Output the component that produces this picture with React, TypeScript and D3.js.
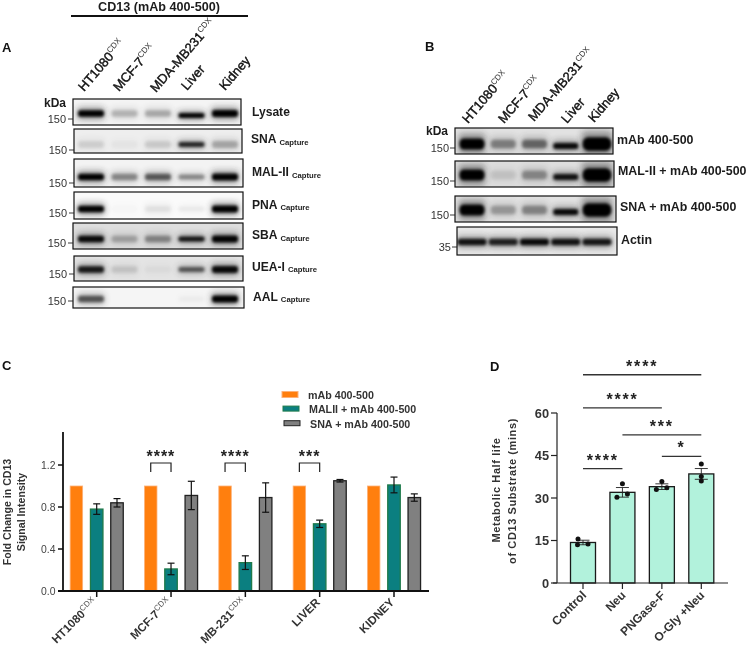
import React from "react";
import * as d3 from "d3";

const FONT = "'Liberation Sans', Arial, sans-serif";
const INK = "#1c1c1c";

// ---- Blot data ----
const laneNames = [
  ["HT1080", "CDX"],
  ["MCF-7", "CDX"],
  ["MDA-MB231", "CDX"],
  ["Liver", ""],
  ["Kidney", ""],
];
const blotANames = ["Lysate", "SNA", "MAL-II", "PNA", "SBA", "UEA-I", "AAL"];
const blotATicks = ["150", "150", "150", "150", "150", "150", "150"];
const blotAIntensity = [
  [1, 0.26, 0.3, 0.95, 1],
  [0.14, 0.05, 0.16, 0.8, 0.3],
  [1, 0.42, 0.6, 0.42, 0.95],
  [1, 0.02, 0.1, 0.07, 1],
  [0.92, 0.28, 0.4, 0.88, 0.95],
  [0.85, 0.15, 0.05, 0.6, 0.92],
  [0.62, 0, 0, 0.04, 1],
];
const blotAGray = [244, 238, 243, 250, 222, 228, 245];

const blotBNames = ["mAb 400-500", "MAL-II + mAb 400-500", "SNA + mAb 400-500", "Actin"];
const blotBTicks = ["150", "150", "150", "35"];
const blotBIntensity = [
  [1, 0.42, 0.52, 0.92, 1],
  [1, 0.13, 0.38, 0.88, 1],
  [1, 0.32, 0.4, 0.92, 1],
  [0.88, 0.82, 0.92, 0.88, 0.86],
];
const blotBGray = [226, 222, 226, 232];

// layout of blots: [x0, y0, x1, y1, tickY, bandY]
const layoutA = [
  [73, 99, 241, 125, 119, 113.5],
  [74, 129, 242, 153, 150, 144.5],
  [74, 159, 243, 187, 183, 177],
  [74, 192, 243, 219, 213, 209],
  [73, 223, 243, 249, 243, 239],
  [74, 256, 243, 281, 274, 269.5],
  [73, 287, 244, 308, 301, 299],
];
const layoutB = [
  [455, 128, 613, 154, 148, 144],
  [455, 161, 614, 187, 181, 175],
  [455, 196, 616, 222, 215, 210],
  [457, 227, 617, 255, 247, 242],
];
// relative band thickness and lane width per lane
const laneThickA = [1, 1, 1, 0.75, 1.05];
const laneThickB = [1.1, 0.85, 0.85, 0.6, 1.35];
const laneWideB = [1, 1, 1, 1, 1.15];

// ---- Panel C data ----
const cCategories = [["HT1080", "CDX"], ["MCF-7", "CDX"], ["MB-231", "CDX"], ["LIVER", ""], ["KIDNEY", ""]];
const cSeriesNames = ["mAb 400-500", "MALII + mAb 400-500", "SNA + mAb 400-500"];
const cFill = ["#ff7f0e", "#0b7f80", "#808080"];
const cStroke = ["#fdb27a", "#1f7a4a", "#222222"];
const cMab = [1, 1, 1, 1, 1];
const cMal = [0.78, 0.21, 0.27, 0.64, 1.01];
const cSna = [0.84, 0.91, 0.89, 1.05, 0.89];
const cMalErr = [0.05, 0.055, 0.065, 0.035, 0.075];
const cSnaErr = [0.04, 0.135, 0.14, 0.012, 0.035];
const cStars = ["", "****", "****", "***", ""];
const cTicks = [0, 0.4, 0.8, 1.2];

// ---- Panel D data ----
const dCategories = ["Control", "Neu", "PNGase-F", "O-Gly +Neu"];
const dMeans = [14.3, 32, 34, 38.5];
const dSem = [0.8, 1.7, 1.0, 1.9];
const dPoints = [
  [15.5, 13.5, 13.8],
  [35, 30.3, 31.4],
  [35.8, 33, 33.6],
  [42, 36, 37.6],
];
const dTicks = [0, 15, 30, 45, 60];
// comparison [from, to, stars, value level]
const dSig: [number, number, string, number][] = [
  [0, 3, "****", 73.5],
  [0, 2, "****", 61.8],
  [1, 3, "***", 52.3],
  [2, 3, "*", 44.7],
  [0, 1, "****", 40.4],
];

// ---- Scales ----
const xC = d3.scalePoint<number>().domain([0, 1, 2, 3, 4]).range([96.7, 394]);
const yC = d3.scaleLinear().domain([0, 1.2]).range([591, 465]);
const xD = d3.scalePoint<number>().domain([0, 1, 2, 3]).range([583, 701.3]);
const yD = d3.scaleLinear().domain([0, 60]).range([583, 413]);
const xLaneA = d3.scalePoint<number>().domain([0, 1, 2, 3, 4]).range([91, 225]);
const xLaneB = d3.scalePoint<number>().domain([0, 1, 2, 3, 4]).range([472, 597]);

function Blot({ id, box, gray, intensity, laneX, bandW, bandH, thick, wide, liverDy, tick, label, labelX, labelDy, sub, tickX }: any) {
  const [x0, y0, x1, y1, tickY, bandY] = box;
  const g = (v: number) => `rgb(${v},${v},${v})`;
  return (
    <g>
      <clipPath id={id}><rect x={x0} y={y0} width={x1 - x0} height={y1 - y0} /></clipPath>
      <rect x={x0} y={y0} width={x1 - x0} height={y1 - y0} fill={g(gray)} />
      <g clipPath={`url(#${id})`}>
        {intensity.map((v: number, i: number) => {
          const h = bandH * thick[i];
          const w = bandW * wide[i];
          const cy = bandY + (i === 3 ? liverDy : 0);
          return (
            <g key={i}>
              <rect x={laneX(i) - w / 2 - 1} y={cy - h * 0.95} width={w + 2} height={h * 1.9} rx={4}
                fill="#222" opacity={v * 0.42} filter="url(#blurWide)" />
              <rect x={laneX(i) - w / 2} y={cy - h / 2} width={w} height={h} rx={h / 2.4}
                fill="#000" opacity={Math.min(1, Math.pow(v, 1.25) * 1.05)} filter="url(#blurBand)" />
            </g>
          );
        })}
      </g>
      <rect x={x0} y={y0} width={x1 - x0} height={y1 - y0} fill="none" stroke="#111" strokeWidth={1.2} />
      <line x1={x0 - 5} x2={x0} y1={tickY} y2={tickY} stroke="#222" strokeWidth={0.9} />
      <text x={tickX} y={tickY + 4} fontSize={11} fill="#333" textAnchor="end">{tick}</text>
      <text x={labelX} y={(y0 + y1) / 2 + labelDy} fontSize={sub === null ? 12.4 : 12.1} fontWeight="bold" fill={INK}>
        {label}
        {sub && <tspan fontSize={7.7} dx={3} dy={1.5}>Capture</tspan>}
      </text>
    </g>
  );
}

function LaneLabel({ x, y, parts, angle, size }: any) {
  return (
    <text transform={`translate(${x},${y}) rotate(${angle})`} fontSize={size} fill="#111" stroke="#111" strokeWidth={0.4}>
      {parts[0]}
      {parts[1] && <tspan fontSize={size * 0.62} stroke="none" fill="#333" dy={-size * 0.42}>{parts[1]}</tspan>}
    </text>
  );
}

const aLabelX = [252, 251, 252, 252, 252, 252, 253];
const aLabelDy = [4, 2, 3, 3, 3, 2, 3];
const bLabelX = [617, 618, 620, 621];
const bLabelDy = [3, 1, 2, 3];
const aLaneAnchor = [[84, 92], [119, 92], [156, 93], [187, 91], [225, 91]];
const bLaneAnchor = [[468, 124], [504, 124], [534, 122], [567, 124], [594, 123]];

export default function App() {
  const groupOffset = 20.3;
  const barW = 12.5;
  const series = [cMab, cMal, cSna];
  const errs = [null, cMalErr, cSnaErr];
  return (
    <svg width={748} height={651} viewBox="0 0 748 651" fontFamily={FONT}
      style={{ position: "absolute", left: 0, top: 0, background: "#fff" }}>
      <defs>
        <filter id="blurBand" x="-30%" y="-100%" width="160%" height="300%"><feGaussianBlur stdDeviation="1.5" /></filter>
        <filter id="blurWide" x="-30%" y="-100%" width="160%" height="300%"><feGaussianBlur stdDeviation="3" /></filter>
        <filter id="soft" filterUnits="userSpaceOnUse" x="0" y="0" width="748" height="651" colorInterpolationFilters="sRGB"><feGaussianBlur stdDeviation="0.4" /></filter>
      </defs>
      <g filter="url(#soft)">

      {/* Panel A */}
      <text x={159} y={11} fontSize={12.6} fontWeight="bold" textAnchor="middle" fill={INK}>CD13 (mAb 400-500)</text>
      <line x1={71} x2={248} y1={16} y2={16} stroke="#111" strokeWidth={2} />
      <text x={2} y={52} fontSize={13} fontWeight="bold" fill="#111">A</text>
      {laneNames.map((p, i) => (
        <LaneLabel key={i} x={aLaneAnchor[i][0]} y={aLaneAnchor[i][1]} parts={p} angle={-49} size={13} />
      ))}
      <text x={44} y={107} fontSize={12} fontWeight="bold" fill={INK}>kDa</text>
      {blotANames.map((n, i) => (
        <Blot key={n} id={`a${i}`} box={layoutA[i]} gray={blotAGray[i]} intensity={blotAIntensity[i]}
          laneX={xLaneA} bandW={26} bandH={6.5} thick={laneThickA} wide={[1, 1, 1, 1, 1]} liverDy={i === 0 ? 2 : 0}
          tick={blotATicks[i]} label={n} labelX={aLabelX[i]}
          labelDy={aLabelDy[i]} sub={i > 0} tickX={layoutA[i][0] - 7} />
      ))}

      {/* Panel B */}
      <text x={425} y={51} fontSize={13} fontWeight="bold" fill="#111">B</text>
      {laneNames.map((p, i) => (
        <LaneLabel key={i} x={bLaneAnchor[i][0]} y={bLaneAnchor[i][1]} parts={p} angle={-49} size={13} />
      ))}
      <text x={426} y={135} fontSize={12} fontWeight="bold" fill={INK}>kDa</text>
      {blotBNames.map((n, i) => (
        <Blot key={n} id={`b${i}`} box={layoutB[i]} gray={blotBGray[i]} intensity={blotBIntensity[i]}
          laneX={xLaneB} bandW={i === 3 ? 29 : 25} bandH={i === 3 ? 6.5 : 10}
          thick={i === 3 ? [1, 1, 1, 1, 1] : laneThickB} wide={i === 3 ? [1, 1, 1, 1, 1] : laneWideB}
          liverDy={i === 3 ? 0 : 2} tick={blotBTicks[i]} label={n}
          labelX={bLabelX[i]} labelDy={bLabelDy[i]} sub={null} tickX={layoutB[i][0] - 6} />
      ))}

      {/* Panel C */}
      <text x={2} y={370} fontSize={13} fontWeight="bold" fill="#111">C</text>
      {cSeriesNames.map((n, i) => (
        <g key={n}>
          <rect x={282 + i} y={391.5 + i * 14.6} width={16} height={i === 0 ? 6 : 5}
            fill={cFill[i]} stroke={cStroke[i]} strokeWidth={1} />
          <text x={308 + i} y={398.5 + i * 14.6} fontSize={10.7} fontWeight="bold" fill="#333">{n}</text>
        </g>
      ))}
      <text transform="translate(11,512) rotate(-90)" fontSize={10.6} fontWeight="bold" fill="#333" textAnchor="middle">Fold Change in CD13</text>
      <text transform="translate(24.5,512) rotate(-90)" fontSize={10.6} fontWeight="bold" fill="#333" textAnchor="middle">Signal Intensity</text>
      {cCategories.map((c, gi) => {
        const cx = xC(gi)!;
        return (
          <g key={c[0]}>
            {series.map((s, si) => {
              const x = cx + (si - 1) * groupOffset;
              const e = errs[si];
              return (
                <g key={si}>
                  <rect x={x - barW / 2} y={yC(s[gi])} width={barW} height={yC(0) - yC(s[gi])}
                    fill={cFill[si]} stroke={cStroke[si]} strokeWidth={si === 0 ? 0.8 : 1.3} />
                  {e && (
                    <g stroke="#111" strokeWidth={1.2}>
                      <line x1={x} x2={x} y1={yC(s[gi] - e[gi])} y2={yC(s[gi] + e[gi])} />
                      <line x1={x - 3.5} x2={x + 3.5} y1={yC(s[gi] - e[gi])} y2={yC(s[gi] - e[gi])} />
                      <line x1={x - 3.5} x2={x + 3.5} y1={yC(s[gi] + e[gi])} y2={yC(s[gi] + e[gi])} />
                    </g>
                  )}
                </g>
              );
            })}
            {cStars[gi] && (
              <g>
                <path d={`M${cx - groupOffset},${yC(1.2) + 7}V${yC(1.2) - 2}H${cx}V${yC(1.2) + 7}`} fill="none" stroke="#222" strokeWidth={1.2} />
                <text x={cx - groupOffset / 2} y={yC(1.2) - 3} fontSize={16} letterSpacing={1} fontWeight="bold" textAnchor="middle" fill="#222">{cStars[gi]}</text>
              </g>
            )}
            <line x1={cx} x2={cx} y1={yC(0)} y2={yC(0) + 6} stroke="#111" strokeWidth={1.5} />
            <text transform={`translate(${cx + 1},${yC(0) + 12}) rotate(-45)`} fontSize={11.6} fontWeight="bold" fill="#333" textAnchor="end">
              {c[0]}
              {c[1] && <tspan fontSize={8} fontWeight="normal" fill="#555" dy={-4.5}>{c[1]}</tspan>}
            </text>
          </g>
        );
      })}
      <line x1={63} x2={63} y1={432} y2={yC(0) + 1} stroke="#111" strokeWidth={1.8} />
      <line x1={58} x2={429} y1={yC(0)} y2={yC(0)} stroke="#111" strokeWidth={1.8} />
      {cTicks.map((t) => (
        <g key={t}>
          <line x1={58} x2={63} y1={yC(t)} y2={yC(t)} stroke="#111" strokeWidth={1.5} />
          <text x={55.5} y={yC(t) + 3.8} fontSize={10.4} textAnchor="end" fill="#444">{t.toFixed(1)}</text>
        </g>
      ))}

      {/* Panel D */}
      <text x={490} y={371} fontSize={13} fontWeight="bold" fill="#111">D</text>
      <text transform="translate(500,490) rotate(-90)" fontSize={11} fontWeight="bold" fill="#333" textAnchor="middle" letterSpacing={0.6}>Metabolic Half life</text>
      <text transform="translate(516,491) rotate(-90)" fontSize={11} fontWeight="bold" fill="#333" textAnchor="middle" letterSpacing={0.6}>of CD13 Substrate (mins)</text>
      {dCategories.map((c, i) => {
        const x = xD(i)!;
        return (
          <g key={c}>
            <rect x={x - 12.5} y={yD(dMeans[i])} width={25} height={yD(0) - yD(dMeans[i])} fill="#b2f2dc" stroke="#1a1a1a" strokeWidth={1.3} />
            <g stroke="#222" strokeWidth={0.9}>
              <line x1={x} x2={x} y1={yD(dMeans[i] - dSem[i])} y2={yD(dMeans[i] + dSem[i])} />
              <line x1={x - 6.5} x2={x + 6.5} y1={yD(dMeans[i] - dSem[i])} y2={yD(dMeans[i] - dSem[i])} />
              <line x1={x - 6.5} x2={x + 6.5} y1={yD(dMeans[i] + dSem[i])} y2={yD(dMeans[i] + dSem[i])} />
            </g>
            {dPoints[i].map((p, k) => (
              <circle key={k} cx={x + [i === 0 ? -5 : 0, -5.5, 5][k] * (i === 3 ? 0 : 1)} cy={yD(p)} r={2.5} fill="#111" />
            ))}
            <line x1={x} x2={x} y1={yD(0)} y2={yD(0) + 6} stroke="#222" strokeWidth={1.2} />
            <text transform={`translate(${x + 4},${yD(0) + 13}) rotate(-45)`} fontSize={12} fontWeight="bold" fill="#333" textAnchor="end">{c}</text>
          </g>
        );
      })}
      <line x1={553} x2={728} y1={yD(0)} y2={yD(0)} stroke="#222" strokeWidth={1.2} />
      <line x1={557} x2={557} y1={yD(60)} y2={yD(0)} stroke="#222" strokeWidth={1.2} />
      {dTicks.map((t) => (
        <g key={t}>
          <line x1={551} x2={557} y1={yD(t)} y2={yD(t)} stroke="#222" strokeWidth={1.2} />
          <text x={549} y={yD(t) + 4.5} fontSize={12.8} fontWeight="bold" textAnchor="end" fill="#333">{t}</text>
        </g>
      ))}
      {dSig.map(([a, b, s, v], i) => (
        <g key={i}>
          <line x1={xD(a)} x2={xD(b)} y1={yD(v)} y2={yD(v)} stroke="#333" strokeWidth={1.3} />
          <text x={(xD(a)! + xD(b)!) / 2} y={yD(v) - 3} fontSize={16} letterSpacing={1.8} fontWeight="bold" textAnchor="middle" fill="#222">{s}</text>
        </g>
      ))}
      </g>
    </svg>
  );
}
